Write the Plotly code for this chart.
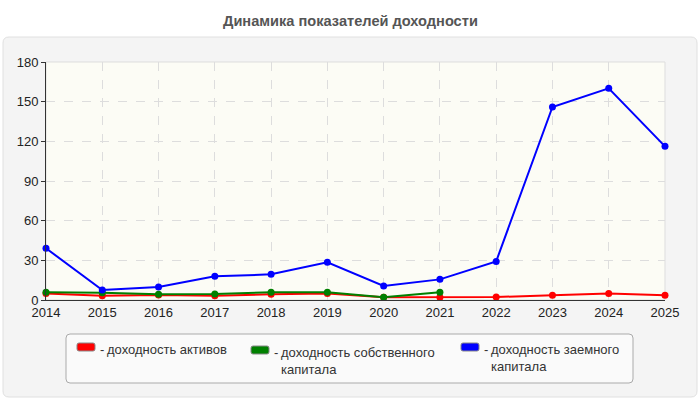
import plotly.graph_objects as go

years = [2014, 2015, 2016, 2017, 2018, 2019, 2020, 2021, 2022, 2023, 2024, 2025]
roa = [5, 3.3, 3.8, 3.3, 4.3, 5, 2, 2, 2.3, 3.5, 5, 3.5]
roe = [5.8, 5.5, 4.3, 4.5, 5.8, 5.8, 2, 5.8, None, None, None, None]
rod = [39.1, 7.6, 9.8, 17.9, 19.4, 28.5, 10.6, 15.6, 29.2, 146, 160.1, 116.2]
y_ticks = [0, 30, 60, 90, 120, 150, 180]

names = ["доходность активов", "доходность собственного капитала", "доходность заемного капитала"]
legend_labels = ["доходность активов", "доходность собственного<br>капитала", "доходность заемного<br>капитала"]
colors = ["#ff0000", "#008000", "#0000ff"]
FONT = "Liberation Sans, Arial"

W, H = 700, 400
L, R, T, B = 46, 35, 62, 100
pw, ph = W - L - R, H - T - B

def px(x):
    return (x - L) / pw

def py(y):
    return (H - B - y) / ph

def rrect(x0, y0, x1, y1, r):
    pts = [
        f"M{px(x0 + r)},{py(y0)}", f"L{px(x1 - r)},{py(y0)}",
        f"Q{px(x1)},{py(y0)} {px(x1)},{py(y0 + r)}", f"L{px(x1)},{py(y1 - r)}",
        f"Q{px(x1)},{py(y1)} {px(x1 - r)},{py(y1)}", f"L{px(x0 + r)},{py(y1)}",
        f"Q{px(x0)},{py(y1)} {px(x0)},{py(y1 - r)}", f"L{px(x0)},{py(y0 + r)}",
        f"Q{px(x0)},{py(y0)} {px(x0 + r)},{py(y0)}", "Z",
    ]
    return " ".join(pts)

fig = go.Figure()
for vals, c, n in zip([roa, roe, rod], colors, names):
    fig.add_trace(go.Scatter(x=years, y=vals, mode="lines+markers", name=n,
                             line=dict(color=c, width=2), marker=dict(color=c, size=7),
                             showlegend=False, connectgaps=False, cliponaxis=False))

shapes = [
    dict(type="path", xref="paper", yref="paper", path=rrect(3, 37, 697, 397, 6),
         fillcolor="#f4f4f4", line=dict(color="#e0e0e0", width=1), layer="below"),
    dict(type="rect", xref="paper", yref="paper", x0=0, x1=1, y0=0, y1=1,
         fillcolor="#fcfcf5", line=dict(color="#dddddd", width=1), layer="below"),
    dict(type="path", xref="paper", yref="paper", path=rrect(66, 334, 633, 383, 4),
         fillcolor="#fafafa", line=dict(color="#aaaaaa", width=1), layer="below"),
]
annotations = [
    dict(text="<b>Динамика показателей доходности</b>", xref="paper", yref="paper",
         x=px(350), y=py(21), xanchor="center", yanchor="middle", showarrow=False,
         font=dict(size=14.6, color="#555555", family=FONT)),
]
# (swatch x, swatch top y, top of text block y)
leg = [
    (77, 343, 340),
    (251, 346, 343),
    (461, 343, 340),
]
for (sx, sy, ty), c, lab in zip(leg, colors, legend_labels):
    shapes.append(dict(type="path", xref="paper", yref="paper", path=rrect(sx, sy, sx + 18, sy + 8, 2),
                       fillcolor=c, line=dict(color="#888888", width=1)))
    annotations.append(dict(text="-", xref="paper", yref="paper", x=px(sx + 21), y=py(ty),
                            xanchor="left", yanchor="top", showarrow=False,
                            font=dict(size=13, color="#333333", family=FONT)))
    annotations.append(dict(text=lab, xref="paper", yref="paper", x=px(sx + 28), y=py(ty),
                            xanchor="left", yanchor="top", align="left", showarrow=False,
                            font=dict(size=13, color="#333333", family=FONT)))

fig.update_layout(
    width=W, height=H,
    margin=dict(l=L, r=R, t=T, b=B),
    paper_bgcolor="white", plot_bgcolor="rgba(0,0,0,0)",
    font=dict(family=FONT, size=13, color="#222222"),
    shapes=shapes, annotations=annotations, showlegend=False,
    xaxis=dict(range=[2014, 2025], tickvals=years, ticktext=[str(y) for y in years],
               showgrid=True, gridcolor="#dddddd", griddash="dash", zeroline=False,
               showline=True, linecolor="#333333", linewidth=1, ticks="", tickfont=dict(size=13)),
    yaxis=dict(range=[0, 180], tickvals=y_ticks, showgrid=True, gridcolor="#dddddd", griddash="dash",
               zeroline=False, showline=True, linecolor="#333333", linewidth=1,
               ticks="outside", ticklen=4, tickcolor="#333333", tickfont=dict(size=13)),
)
fig.write_html("out.html", config={"displayModeBar": False},
               post_script="document.body.style.margin='0';document.body.style.overflow='hidden';")
